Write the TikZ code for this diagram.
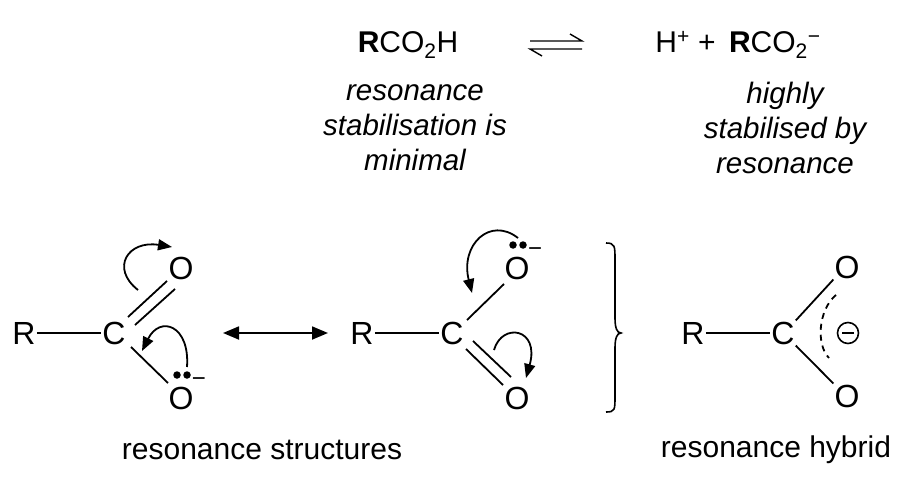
\documentclass[tikz,border=0pt]{standalone}
\usepackage{fontspec}
\setmainfont{Liberation Sans}
\usetikzlibrary{arrows.meta}
\begin{document}
\begin{tikzpicture}[x=1pt,y=-1pt,
  lab/.style={font=\fontsize{30}{36}\selectfont, inner sep=0pt},
  it/.style={font=\fontsize{29.5}{35}\selectfont\itshape, align=center, inner sep=0pt},
  atom/.style={font=\fontsize{32}{34}\selectfont, inner sep=1pt},
  bond/.style={line width=1.8pt},
  curly/.style={line width=1.8pt, -{Triangle[length=14pt,width=11pt]}},
  lp/.style={fill=black, circle, inner sep=0pt, minimum size=7.5pt},
  chg/.style={font=\fontsize{24}{24}\selectfont, inner sep=0pt}]
\useasboundingbox (0,0) rectangle (920,492);
% top equation
\node[lab] (acid) at (408,45) {\textbf{R}CO\textsubscript{2}H};
\draw[line width=1.4pt] (530,41) -- (582,41) -- (570,34);
\draw[line width=1.4pt] (582,49) -- (530,49) -- (542,56);
\node[lab] (prod) at (738,45) {H\textsuperscript{+} + \,\textbf{R}CO\textsubscript{2}\textsuperscript{\textminus}};
\node[it] (t1) at (415,128) {resonance\\stabilisation is\\minimal};
\node[it] (t2) at (785,128) {highly\\stabilised by\\resonance};
% structure 1
\node[atom] (R1) at (24,333) {R};
\node[atom] (C1) at (114,333) {C};
\node[atom] (O1a) at (181,268) {O};
\node[atom] (O1b) at (181,398) {O};
\node[chg] (m1) at (199,382) {\textminus};
\node[lp] (d1a) at (177,375) {}; \node[lp] (d1b) at (187,375) {};
\draw[bond] (R1) -- (C1);
\draw[bond] (128,317) -- (167,281);
\draw[bond] (135,325) -- (175,289);
\draw[bond] (131,347) -- (168,383);
\draw[curly] (138,290) .. controls (110,268) and (128,240) .. (172,247);
\draw[curly] (187,367) .. controls (190,325) and (160,315) .. (142,351);
% double arrow
\coordinate (ra) at (223,333); \coordinate (rb) at (328,333);
\draw[line width=1.8pt, {Triangle[length=16pt,width=13pt]}-{Triangle[length=16pt,width=13pt]}] (ra) -- (rb);
% structure 2
\node[atom] (R2) at (362,333) {R};
\node[atom] (C2) at (452,333) {C};
\node[atom] (O2a) at (517,268) {O};
\node[atom] (O2b) at (517,398) {O};
\node[chg] (m2) at (535,252) {\textminus};
\node[lp] (d2a) at (513,245) {}; \node[lp] (d2b) at (523,245) {};
\draw[bond] (R2) -- (C2);
\draw[bond] (467,320) -- (504,284);
\draw[bond] (466,349) -- (503,385);
\draw[bond] (473,341) -- (511,377);
\draw[curly] (518,238) .. controls (490,216) and (460,245) .. (472,293);
\draw[curly] (494,350) .. controls (502,322) and (540,328) .. (526,378);
% bracket
\draw[line width=1.6pt] (606,243) .. controls (615,243) and (615,246) .. (615,260) -- (615,318)
  .. controls (615,328) and (617,333) .. (621,333)
  .. controls (617,333) and (615,338) .. (615,348) -- (615,396)
  .. controls (615,410) and (615,412) .. (606,412);
% hybrid
\node[atom] (R3) at (693,333) {R};
\node[atom] (C3) at (783,333) {C};
\node[atom] (O3a) at (847,267) {O};
\node[atom] (O3b) at (847,396) {O};
\draw[bond] (R3) -- (C3);
\draw[bond] (C3.north east) -- (O3a.south west);
\draw[bond] (C3.south east) -- (O3b.north west);
\draw[line width=1.8pt, dash pattern=on 6pt off 5pt] (836,295) .. controls (818,310) and (816,345) .. (829,358);
\node[circle, draw, line width=1.6pt, minimum size=21pt, inner sep=0pt] (neg) at (848,333) {};
\draw[line width=1.8pt] ([xshift=-6pt]neg.center) -- ([xshift=6pt]neg.center);
% labels
\node[lab] (L1) at (262,450) {resonance structures};
\node[lab] (L2) at (776,450) {resonance hybrid};
\end{tikzpicture}
\end{document}
